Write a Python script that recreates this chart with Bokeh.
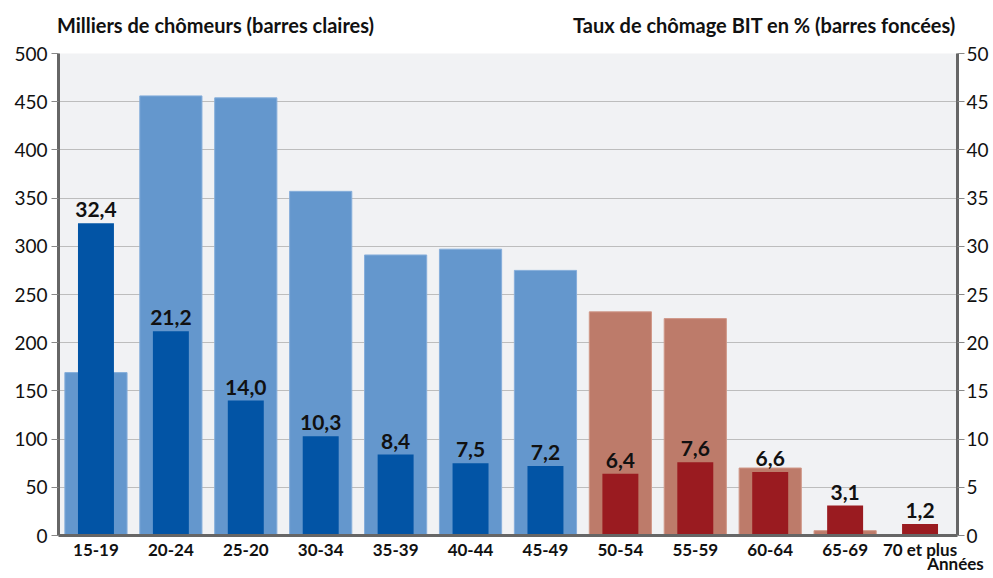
from bokeh.plotting import figure
from bokeh.models import (ColumnDataSource, Range1d, LinearAxis,
                          FixedTicker, LinearScale)
from bokeh.core.properties import value
from bokeh.embed import file_html
from bokeh.resources import INLINE

# ---- data ----
categories = ["15-19", "20-24", "25-20", "30-34", "35-39", "40-44", "45-49",
              "50-54", "55-59", "60-64", "65-69", "70 et plus"]
chomeurs_milliers = [169, 456, 454, 357, 291, 297, 275, 232, 225, 70, 5, 0]
taux_bit = [32.4, 21.2, 14.0, 10.3, 8.4, 7.5, 7.2, 6.4, 7.6, 6.6, 3.1, 1.2]
seniors = [False] * 7 + [True] * 5
left_ticks = [0, 50, 100, 150, 200, 250, 300, 350, 400, 450, 500]
right_ticks = [0, 5, 10, 15, 20, 25, 30, 35, 40, 45, 50]
title_left = "Milliers de chômeurs (barres claires)"
title_right = "Taux de chômage BIT en % (barres foncées)"
unit_x = "Années"

FONT = "Lato"
FW, FH = 899, 482
n = len(categories)
xpos = list(range(n))
light = ["#BD7B6A" if s else "#6497CD" for s in seniors]
light_edge = ["#D09888" if s else "#86AEDB" for s in seniors]
dark = ["#9A1B20" if s else "#0254A5" for s in seniors]
labels = [f"{v:.1f}".replace(".", ",") for v in taux_bit]

src = ColumnDataSource(dict(x=xpos, cat=categories, milliers=chomeurs_milliers,
                            taux=taux_bit, light=light, edge=light_edge,
                            dark=dark, lab=labels))

p = figure(x_range=Range1d(-0.5, n - 0.5),
           y_range=Range1d(0, 500),
           frame_width=FW, frame_height=FH,
           min_border_left=58, min_border_right=36,
           min_border_top=53, min_border_bottom=42,
           output_backend="svg", toolbar_location=None)
p.extra_y_ranges = {"taux": Range1d(0, 50)}
p.extra_x_ranges = {"px": Range1d(0, FW)}
p.extra_x_scales = {"px": LinearScale()}

p.background_fill_color = "#F1F2F4"
p.border_fill_color = "white"
p.outline_line_color = None

p.vbar(x="x", top="milliers", width=0.83, source=src,
       fill_color="light", line_color="edge", line_width=1)
p.vbar(x="x", top="taux", width=0.48, source=src, y_range_name="taux",
       fill_color="dark", line_color=None)
p.text(x="x", y="taux", text="lab", source=src, y_range_name="taux",
       text_align="center", text_baseline="bottom", y_offset=-6,
       text_font=value(FONT), text_font_style="bold",
       text_font_size="21px", text_color="#111111")

# grid
p.xgrid.grid_line_color = None
p.ygrid.ticker = FixedTicker(ticks=left_ticks)
p.ygrid.grid_line_color = "#BDBDBD"
p.ygrid.grid_line_width = 1


def style_value_axis(a, standoff):
    a.axis_line_color = "#666666"
    a.axis_line_width = 3
    a.major_tick_line_color = "#888888"
    a.major_tick_out = 7
    a.major_tick_in = 0
    a.minor_tick_line_color = None
    a.major_label_text_font = FONT
    a.major_label_text_font_size = "19px"
    a.major_label_text_color = "#111111"
    a.major_label_standoff = standoff


# left axis
ax = p.yaxis[0]
ax.ticker = FixedTicker(ticks=left_ticks)
style_value_axis(ax, 4)

# right axis
rax = LinearAxis(y_range_name="taux", ticker=FixedTicker(ticks=right_ticks))
style_value_axis(rax, 2)
p.add_layout(rax, "right")

# bottom axis (category names)
bx = p.xaxis[0]
bx.ticker = FixedTicker(ticks=xpos)
bx.major_label_overrides = dict(zip(xpos, categories))
bx.axis_line_color = "#666666"
bx.axis_line_width = 3
bx.major_tick_line_color = None
bx.minor_tick_line_color = None
bx.major_label_text_font = FONT
bx.major_label_text_font_style = "bold"
bx.major_label_text_font_size = "17px"
bx.major_label_text_color = "#111111"
bx.major_label_standoff = -3


def text_axis(side, ticks, texts, size, standoff):
    a = LinearAxis(x_range_name="px", ticker=FixedTicker(ticks=ticks),
                   major_label_overrides=dict(zip(ticks, texts)))
    a.axis_line_color = None
    a.major_tick_line_color = None
    a.minor_tick_line_color = None
    a.major_tick_out = 0
    a.major_tick_in = 0
    a.major_label_text_font = FONT
    a.major_label_text_font_style = "bold"
    a.major_label_text_font_size = size
    a.major_label_text_color = "#111111"
    a.major_label_standoff = standoff
    p.add_layout(a, side)
    return a


# titles above the frame (left and right)
text_axis("above", [157, 706], [title_left, title_right], "20px", 17)
# unit label under the last category
text_axis("below", [897], [unit_x], "17px", -10)

open("out.html", "w").write(file_html(p, INLINE))
